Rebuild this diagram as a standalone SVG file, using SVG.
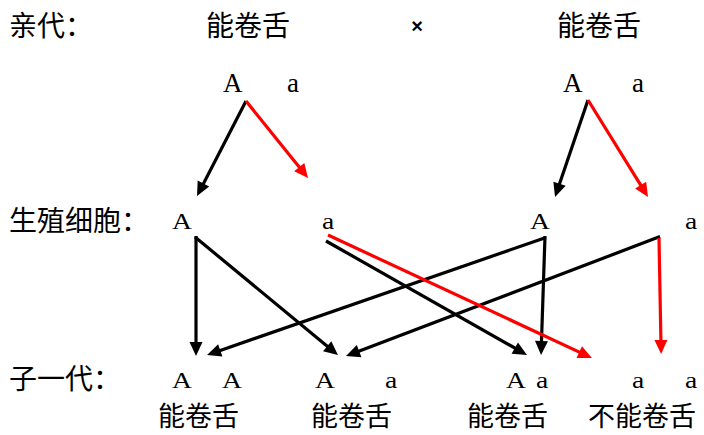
<svg xmlns="http://www.w3.org/2000/svg" width="704" height="435" viewBox="0 0 704 435">
<style>
.cjk{font-family:"Noto Sans CJK SC","Noto Sans CJK JP",sans-serif;font-size:28px;fill:#000}
.bot{font-family:"Noto Sans CJK SC","Noto Sans CJK JP",sans-serif;font-size:27px;fill:#000}
.l1{font-family:"Liberation Serif","Times New Roman",serif;font-size:27px;fill:#000}
.l2{font-family:"Liberation Serif","Times New Roman",serif;font-size:23px;fill:#000}
.blk{stroke:#000;stroke-width:3.2;fill:none;marker-end:url(#ab)}
.red{stroke:#ff0000;stroke-width:3.2;fill:none;marker-end:url(#ar)}
</style>
<defs>
<marker id="ab" markerUnits="userSpaceOnUse" orient="auto" markerWidth="20" markerHeight="20" refX="0" refY="0" overflow="visible">
<path d="M-6,-6.5 L8,0 L-6,6.5 Z" fill="#000"/>
</marker>
<marker id="ar" markerUnits="userSpaceOnUse" orient="auto" markerWidth="20" markerHeight="20" refX="0" refY="0" overflow="visible">
<path d="M-6,-6.5 L8,0 L-6,6.5 Z" fill="#ff0000"/>
</marker>
</defs>
<rect width="704" height="435" fill="#fff"/>
<g id="row-labels">
<text class="cjk" x="9" y="36">亲代：</text>
<text class="cjk" x="9" y="231">生殖细胞：</text>
<text class="cjk" x="9" y="389">子一代：</text>
</g>
<g id="parent-left">
<text class="cjk" x="206" y="36">能卷舌</text>
<text class="l1" x="223" y="92">A</text>
<text class="l1" x="287" y="92">a</text>
</g>
<text id="cross" x="417" y="33" text-anchor="middle" font-family="Liberation Sans, Arial, sans-serif" font-weight="bold" font-size="20">×</text>
<g id="parent-right">
<text class="cjk" x="557" y="36">能卷舌</text>
<text class="l1" x="563" y="92">A</text>
<text class="l1" x="632" y="92">a</text>
</g>
<g id="gamete-A1"><text class="l2" transform="translate(172,229) scale(1.2,1)">A</text></g>
<g id="gamete-a1"><text class="l2" transform="translate(322,229) scale(1.2,1)">a</text></g>
<g id="gamete-A2"><text class="l2" transform="translate(530,229) scale(1.2,1)">A</text></g>
<g id="gamete-a2"><text class="l2" transform="translate(685,229) scale(1.2,1)">a</text></g>
<g id="child-AA">
<text class="l2" transform="translate(172,388) scale(1.2,1)">A</text>
<text class="l2" transform="translate(222,388) scale(1.2,1)">A</text>
<text class="bot" x="158" y="426">能卷舌</text>
</g>
<g id="child-Aa1">
<text class="l2" transform="translate(315,388) scale(1.2,1)">A</text>
<text class="l2" transform="translate(385,388) scale(1.2,1)">a</text>
<text class="bot" x="311" y="426">能卷舌</text>
</g>
<g id="child-Aa2">
<text class="l2" transform="translate(506,388) scale(1.2,1)">A</text>
<text class="l2" transform="translate(536,388) scale(1.2,1)">a</text>
<text class="bot" x="467" y="426">能卷舌</text>
</g>
<g id="child-aa">
<text class="l2" transform="translate(632,388) scale(1.2,1)">a</text>
<text class="l2" transform="translate(685,388) scale(1.2,1)">a</text>
<text class="bot" x="588" y="426">不能卷舌</text>
</g>
<g id="connectors">
<line class="blk" x1="246" y1="101" x2="200.7" y2="188.9"/>
<line class="red" x1="246" y1="101" x2="303" y2="171.8"/>
<line class="blk" x1="588" y1="100" x2="557.6" y2="189.4"/>
<line class="red" x1="588" y1="100" x2="643.8" y2="190.2"/>
<line class="blk" x1="196" y1="236" x2="196" y2="348"/>
<line class="blk" x1="195" y1="237" x2="331.8" y2="350"/>
<line class="blk" x1="546" y1="237.5" x2="214.6" y2="352.4"/>
<line class="blk" x1="545" y1="236" x2="541.3" y2="347"/>
<line class="blk" x1="660" y1="236.6" x2="353.5" y2="353.2"/>
<line class="blk" x1="326" y1="241" x2="520" y2="351"/>
<line class="red" x1="328" y1="235" x2="584.7" y2="354.6"/>
<line class="red" x1="659" y1="238" x2="661" y2="346"/>
</g>
</svg>
